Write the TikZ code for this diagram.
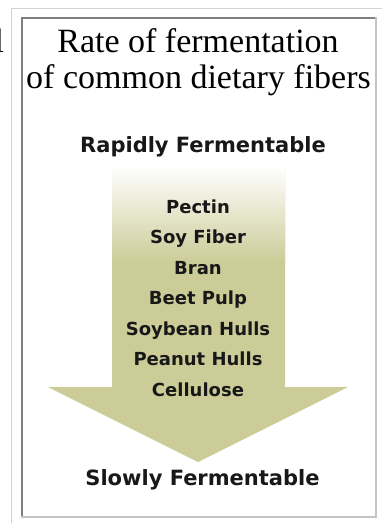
\documentclass[tikz,border=0pt]{standalone}
\usepackage{fontspec}
\setmainfont{Liberation Serif}
\newfontfamily\vfont{DejaVu Sans}
\definecolor{khaki}{RGB}{204,204,153}
\definecolor{darkedge}{RGB}{128,128,128}
\definecolor{lightedge}{RGB}{196,196,196}
\definecolor{outeredge}{RGB}{210,210,210}
\definecolor{inktext}{RGB}{24,24,24}
\begin{document}
\begin{tikzpicture}[x=1pt,y=-1pt,
  titletext/.style={font=\fontsize{34}{36}\selectfont, anchor=base, inner sep=0pt},
  headtext/.style={font=\vfont\bfseries\fontsize{21}{24}\selectfont, text=inktext, anchor=base, inner sep=0pt},
  itemtext/.style={font=\vfont\bfseries\fontsize{18}{21}\selectfont, text=inktext, anchor=base, inner sep=0pt},
  arrowfill/.style={fill=khaki}]
\useasboundingbox (0,0) rectangle (382,523);
\fill[white] (0,0) rectangle (382,523);
% outer frame lines
\draw[outeredge, line width=1.5pt] (11.5,524) -- (11.5,8.5) -- (383,8.5);
% inner inset box
\draw[darkedge, line width=2pt] (22,517) -- (22,18) -- (376,18);
\draw[lightedge, line width=2pt] (376,17) -- (376,517) -- (21,517);
% arrow
\fill[arrowfill] (112,168) -- (285,168) -- (285,387) -- (348,387) -- (198,462) -- (48,387) -- (112,387) -- cycle;
\shade[top color=white, bottom color=khaki] (112,166) rectangle (285,262);
% clipped fragment at left edge
\node[titletext, anchor=base west] (frag) at (-5.5,52) {l};
% title
\node[titletext] (title1) at (198,52) {Rate of fermentation};
\node[titletext] (title2) at (198.5,88) {of common dietary fibers};
% headers
\node[headtext] (rapid) at (203,152) {Rapidly Fermentable};
\node[headtext] (slow) at (202.5,485) {Slowly Fermentable};
% items
\node[itemtext] (i1) at (198,213) {Pectin};
\node[itemtext] (i2) at (198,243.5) {Soy Fiber};
\node[itemtext] (i3) at (198,274) {Bran};
\node[itemtext] (i4) at (198,304.5) {Beet Pulp};
\node[itemtext] (i5) at (198,335) {Soybean Hulls};
\node[itemtext] (i6) at (198,365.5) {Peanut Hulls};
\node[itemtext] (i7) at (198,396) {Cellulose};
\end{tikzpicture}
\end{document}
